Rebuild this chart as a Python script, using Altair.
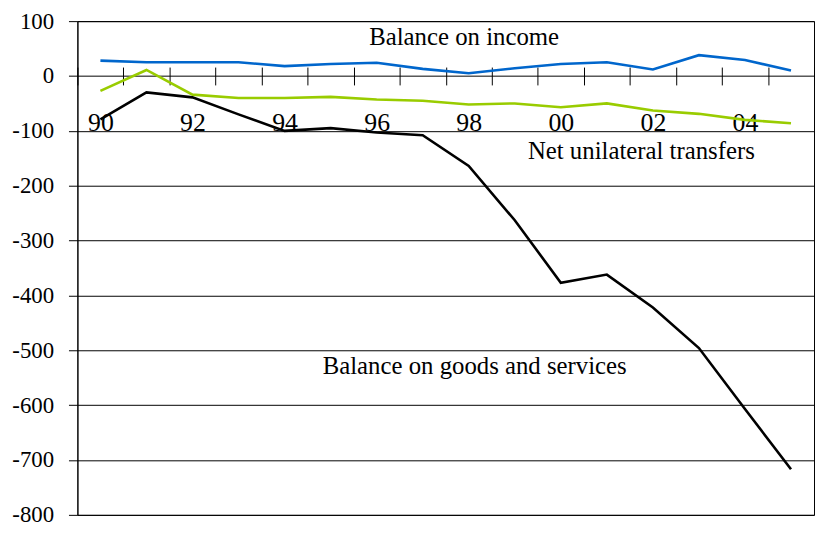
import altair as alt
import pandas as pd

years = list(range(1990, 2006))
goods_services = [-79, -30, -39, -70, -100, -95, -103, -108, -164, -263, -377, -362, -422, -496, -607, -717]
income = [28, 25, 25, 25, 18, 22, 24, 13, 5, 14, 22, 25, 12, 38, 29, 10]
transfers = [-27, 11, -34, -40, -40, -38, -43, -45, -52, -50, -57, -50, -63, -69, -80, -86]

series_names = ["Balance on goods and services", "Balance on income", "Net unilateral transfers"]
series_colors = ["#000000", "#0066CC", "#99CC00"]

label_text = ["Balance on income", "Net unilateral transfers", "Balance on goods and services"]
label_x = [1997.9, 2001.75, 1998.13]
label_y = [56, -151, -543]

x_label_years = list(range(1990, 2006, 2))
x_tick_bounds = [y - 0.5 for y in range(1990, 2007)]
y_ticks = list(range(-800, 101, 100))

rows = []
for name, vals in zip(series_names, [goods_services, income, transfers]):
    for yr, v in zip(years, vals):
        rows.append({"year": yr, "value": v, "series": name})
df = pd.DataFrame(rows)
labels_df = pd.DataFrame({"text": label_text, "x": label_x, "y": label_y})

W, H = 743, 498
ymin, ymax = -800, 100
zero_from_top = H * ymax / (ymax - ymin)
off_zero = -(H - zero_from_top)

FONT = "Liberation Serif"

xscale = alt.Scale(domain=[1989.5, 2005.5], nice=False, zero=False)
yscale = alt.Scale(domain=[ymin, ymax], nice=False, zero=False)


def y_axis():
    return alt.Axis(values=y_ticks, labelExpr="datum.value + ''", grid=True, gridColor="#000000",
                    gridOpacity=1, gridWidth=1, domainColor="#000000", tickColor="#000000",
                    tickSize=9, labelFontSize=23, labelFont=FONT, labelColor="#000000",
                    labelPadding=15, title=None)


lines = alt.Chart(df).mark_line(strokeWidth=2.6).encode(
    x=alt.X("year:Q", scale=xscale,
            axis=alt.Axis(orient="bottom", offset=off_zero, values=x_label_years,
                          labelExpr="slice(toString(datum.value), 2)", domain=False,
                          ticks=False, tickSize=0, grid=False, labelFontSize=26,
                          labelFont=FONT, labelColor="#000000", labelPadding=34,
                          labelFlush=False, labelOverlap=False, title=None)),
    y=alt.Y("value:Q", scale=yscale, axis=y_axis()),
    color=alt.Color("series:N", scale=alt.Scale(domain=series_names, range=series_colors), legend=None),
)

texts = alt.Chart(labels_df).mark_text(font=FONT, fontSize=25, color="#000000",
                                       align="center", baseline="alphabetic").encode(
    x=alt.X("x:Q", scale=xscale,
            axis=alt.Axis(orient="bottom", offset=off_zero - 9, values=x_tick_bounds,
                          labels=False, domain=False, ticks=True, tickSize=18,
                          tickColor="#000000", tickWidth=1, grid=False, title=None)),
    y=alt.Y("y:Q", scale=yscale, axis=y_axis()),
    text="text:N",
)

chart = alt.layer(lines, texts).resolve_axis(x="independent").properties(
    width=W, height=H,
    background="white",
    autosize=alt.AutoSizeParams(type="none"),
    padding={"left": 70, "top": 11, "right": 2, "bottom": 10},
).configure_view(stroke="#000000", strokeWidth=1).configure_axisY(
    labelFont=FONT, labelFontSize=23, labelColor="#000000", labelPadding=15,
    tickSize=9, tickColor="#000000", domainColor="#000000",
    gridColor="#000000", gridOpacity=1, gridWidth=1
).configure_axisX(
    labelFont=FONT, labelColor="#000000"
)

chart.save("out.html", embed_options={"renderer": "svg", "actions": False})
